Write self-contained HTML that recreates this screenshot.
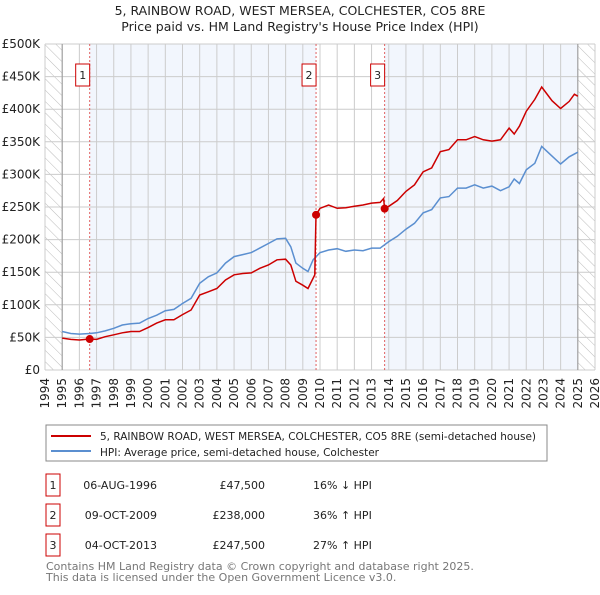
<!DOCTYPE html>
<html><head><meta charset="utf-8"><style>
body{margin:0;background:#fff}
svg text{font-family:"DejaVu Sans","Liberation Sans",sans-serif}
</style></head><body>
<svg width="600" height="590" viewBox="0 0 600 590" xmlns="http://www.w3.org/2000/svg">
<defs>
<pattern id="hatch" width="8" height="8" patternUnits="userSpaceOnUse" patternTransform="rotate(-45)">
<line x1="0" y1="0" x2="0" y2="8" stroke="#bbb" stroke-width="1"/></pattern>
</defs>
<text x="300" y="15" text-anchor="middle" font-size="12.5" fill="#222">5, RAINBOW ROAD, WEST MERSEA, COLCHESTER, CO5 8RE</text>
<text x="300" y="31" text-anchor="middle" font-size="12.5" fill="#222">Price paid vs. HM Land Registry's House Price Index (HPI)</text>
<g id="plot"></g>
<g id="legend">
<rect x="46" y="425" width="501" height="36" fill="#fff" stroke="#888"/>
<line x1="51" y1="436" x2="91" y2="436" stroke="#cc0000" stroke-width="2"/>
<text x="100" y="440" font-size="10.6" fill="#222" textLength="436" lengthAdjust="spacingAndGlyphs">5, RAINBOW ROAD, WEST MERSEA, COLCHESTER, CO5 8RE (semi-detached house)</text>
<line x1="51" y1="451" x2="91" y2="451" stroke="#5b8fd0" stroke-width="2"/>
<text x="100" y="456" font-size="10.6" fill="#222" textLength="279" lengthAdjust="spacingAndGlyphs">HPI: Average price, semi-detached house, Colchester</text>
</g>
<g id="table"></g>
<text x="46" y="570" font-size="11" fill="#777">Contains HM Land Registry data © Crown copyright and database right 2025.</text>
<text x="46" y="581" font-size="11" fill="#777">This data is licensed under the Open Government Licence v3.0.</text>
</svg>
<script>
const yearTicks=[1994,1995,1996,1997,1998,1999,2000,2001,2002,2003,2004,2005,2006,2007,2008,2009,2010,2011,2012,2013,2014,2015,2016,2017,2018,2019,2020,2021,2022,2023,2024,2025,2026];
const valueTicks=[0,50,100,150,200,250,300,350,400,450,500];
const valueTickLabels=["£0","£50K","£100K","£150K","£200K","£250K","£300K","£350K","£400K","£450K","£500K"];
const hpiYears=[1995,1995.5,1996,1996.6,1997,1997.5,1998,1998.5,1999,1999.5,2000,2000.5,2001,2001.5,2002,2002.5,2003,2003.5,2004,2004.5,2005,2005.5,2006,2006.5,2007,2007.5,2008,2008.3,2008.6,2009,2009.3,2009.6,2010,2010.5,2011,2011.5,2012,2012.5,2013,2013.5,2014,2014.5,2015,2015.5,2016,2016.5,2017,2017.5,2018,2018.5,2019,2019.5,2020,2020.5,2021,2021.3,2021.6,2022,2022.5,2022.9,2023.5,2024,2024.5,2025];
const hpiValues=[59,56,55,56,57,60,64,69,71,72,79,84,91,93,102,110,133,143,149,164,174,177,180,187,194,201,202,189,164,156,151,169,180,184,186,182,184,183,187,187,197,205,216,225,241,246,264,266,279,279,284,279,282,275,281,293,286,307,317,343,328,316,327,334];
const priceYears=[1995,1995.5,1996,1996.6,1997,1997.5,1998,1998.5,1999,1999.5,2000,2000.5,2001,2001.5,2002,2002.5,2003,2003.5,2004,2004.5,2005,2005.5,2006,2006.5,2007,2007.5,2008,2008.3,2008.6,2009,2009.3,2009.7,2009.77,2010,2010.5,2011,2011.5,2012,2012.5,2013,2013.5,2013.7,2013.76,2014,2014.5,2015,2015.5,2016,2016.5,2017,2017.5,2018,2018.5,2019,2019.5,2020,2020.5,2021,2021.3,2021.6,2022,2022.5,2022.9,2023.5,2024,2024.5,2024.8,2025];
const priceValues=[49,47,46,47.5,47,51,54,57,59,59,65,72,77,77,85,92,115,120,125,138,146,148,149,156,161,169,170,161,136,130,125,146,238,248,253,248,249,251,253,256,257,263,247.5,251,260,274,284,304,310,335,338,353,353,358,353,351,353,371,362,374,397,415,434,413,401,412,423,420];
const saleYears=[1996.6,2009.77,2013.76];
const saleValues=[47.5,238,247.5];
const saleLabels=["1","2","3"];
const saleDates=["06-AUG-1996","09-OCT-2009","04-OCT-2013"];
const salePrices=["£47,500","£238,000","£247,500"];
const saleHpi=["16% ↓ HPI","36% ↑ HPI","27% ↑ HPI"];

const NS="http://www.w3.org/2000/svg";
const X0=45,X1=595,Y0=370,Y1=44;
const x=y=>X0+(y-1994)/(2026-1994)*(X1-X0);
const yv=v=>Y0-v/500*(Y0-Y1);
function mk(tag,attrs,parent){const e=document.createElementNS(NS,tag);for(const k in attrs)e.setAttribute(k,attrs[k]);parent.appendChild(e);return e;}
const plot=document.getElementById('plot');
let r=mk('rect',{x:X0,y:Y1,width:X1-X0,height:Y0-Y1,fill:'#fff'},plot);

r=mk('rect',{x:x(saleYears[0]),y:Y1,width:x(saleYears[1])-x(saleYears[0]),height:Y0-Y1,fill:'#f2f6fd'},plot);

r=mk('rect',{x:x(saleYears[2]),y:Y1,width:x(2025)-x(saleYears[2]),height:Y0-Y1,fill:'#f2f6fd'},plot);

r=mk('rect',{x:X0,y:Y1,width:x(1995)-X0,height:Y0-Y1,fill:'url(#hatch)'},plot);

r=mk('rect',{x:x(2025),y:Y1,width:X1-x(2025),height:Y0-Y1,fill:'url(#hatch)'},plot);

yearTicks.forEach(t=>{const l=mk('line',{x1:x(t),x2:x(t),y1:Y1,y2:Y0,stroke:'#ccc','stroke-width':1},plot);

const tx=mk('text',{x:0,y:0,transform:`translate(${x(t)+4},378) rotate(-90)`,'text-anchor':'end','font-size':12,fill:'#222'},plot);
tx.textContent=t;});
valueTicks.forEach((t,i)=>{const l=mk('line',{x1:X0,x2:X1,y1:yv(t),y2:yv(t),stroke:'#ccc','stroke-width':1},plot);

const tx=mk('text',{x:40,y:yv(t)+4,'text-anchor':'end','font-size':12,fill:'#222'},plot);
tx.textContent=valueTickLabels[i];});
[1995,2025].forEach(t=>{const l=mk('line',{x1:x(t),x2:x(t),y1:Y1,y2:Y0,stroke:'#999','stroke-width':1},plot);
});
saleYears.forEach((s,i)=>{const l=mk('line',{x1:x(s),x2:x(s),y1:Y1,y2:Y0,stroke:'#e06060','stroke-width':1,'stroke-dasharray':'2,2'},plot);

const b=mk('rect',{x:x(s)-14,y:64,width:14,height:22,fill:'#fff',stroke:'#cc0000'},plot);

const t=mk('text',{x:x(s)-7,y:79,'text-anchor':'middle','font-size':11,fill:'#222'},plot);
t.textContent=saleLabels[i];});
const path=(xs,vs)=>xs.map((a,i)=>(i?'L':'M')+x(a).toFixed(1)+','+yv(vs[i]).toFixed(1)).join('');
const hp=mk('path',{d:path(hpiYears,hpiValues),fill:'none',stroke:'#5b8fd0','stroke-width':1.5},plot);

const pp=mk('path',{d:path(priceYears,priceValues),fill:'none',stroke:'#cc0000','stroke-width':1.5},plot);

saleYears.forEach((s,i)=>{const c=mk('circle',{cx:x(s),cy:yv(saleValues[i]),r:4,fill:'#cc0000'},plot);
});
const tb=document.getElementById('table');
saleLabels.forEach((lab,i)=>{const cy=485+i*30;
const b=mk('rect',{x:46,y:cy-11,width:14,height:22,fill:'#fff',stroke:'#cc0000'},tb);

const t0=mk('text',{x:53,y:cy+4,'text-anchor':'middle','font-size':11,fill:'#222'},tb);
t0.textContent=lab;
const t1=mk('text',{x:157,y:cy+4,'text-anchor':'end','font-size':11,fill:'#222'},tb);
t1.textContent=saleDates[i];
const t2=mk('text',{x:265,y:cy+4,'text-anchor':'end','font-size':11,fill:'#222'},tb);
t2.textContent=salePrices[i];
const t3=mk('text',{x:313,y:cy+4,'font-size':11,fill:'#222'},tb);
t3.textContent=saleHpi[i];});
</script>
</body></html>
